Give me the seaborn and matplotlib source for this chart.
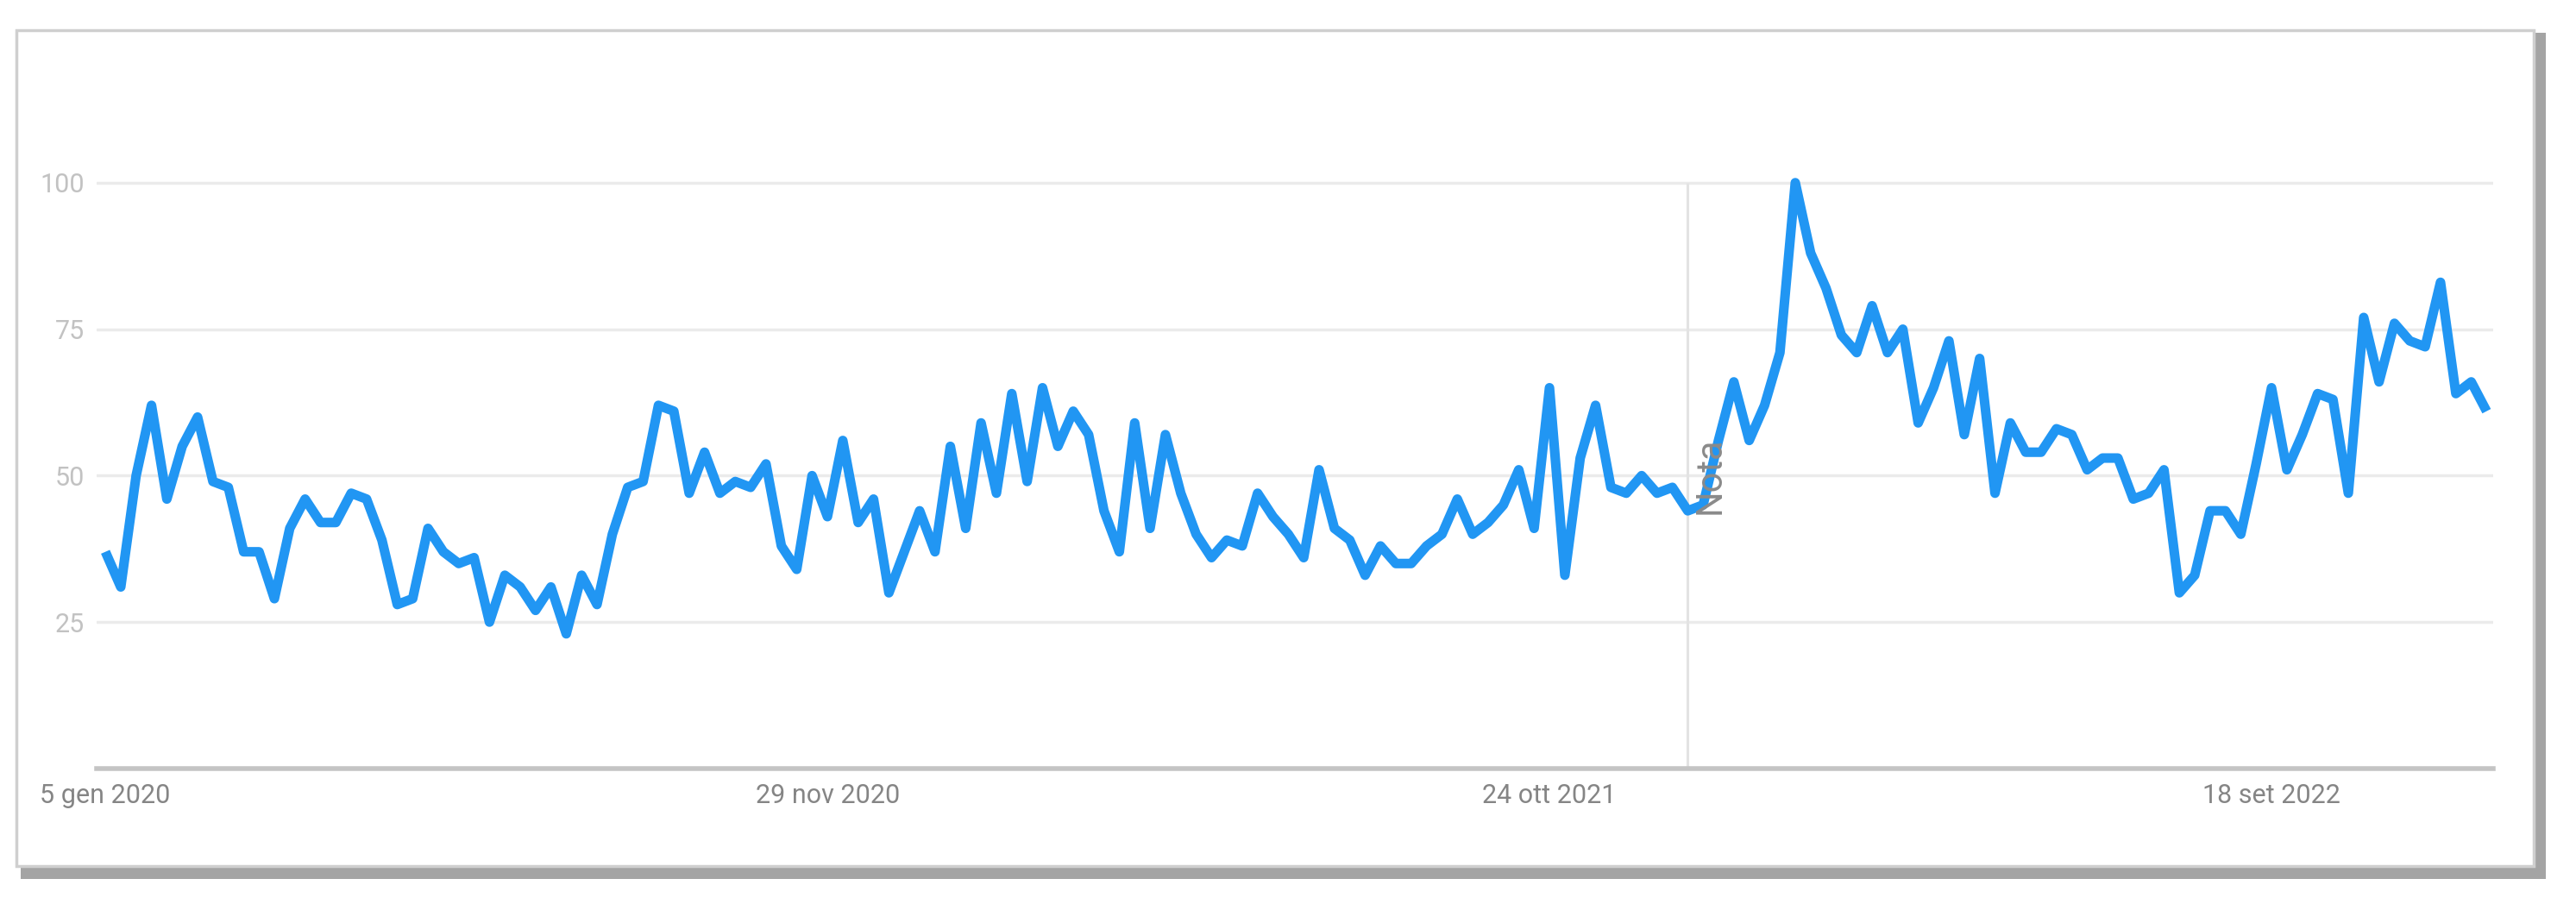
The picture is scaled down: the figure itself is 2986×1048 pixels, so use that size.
#%%
import pandas as pd
import seaborn as sns
import matplotlib.pyplot as plt
import matplotlib.dates as mdates
from matplotlib.patches import Rectangle

sns.set_theme(style="white")
plt.rcParams['font.family'] = ['Roboto', 'DejaVu Sans']

#%% weekly interest (Google Trends style), one list per year
interest_2020 = [37, 31, 50, 62, 46, 55, 60, 49, 48, 37, 37, 29, 41, 46, 42, 42, 47, 46, 39, 28,
                 29, 41, 37, 35, 36, 25, 33, 31, 27, 31, 23, 33, 28, 40, 48, 49, 62, 61, 47, 54,
                 47, 49, 48, 52, 38, 34, 50, 43, 56, 42, 46, 30]
interest_2021 = [37, 44, 37, 55, 41, 59, 47, 64, 49, 65, 55, 61, 57, 44, 37, 59, 41, 57, 47, 40,
                 36, 39, 38, 47, 43, 40, 36, 51, 41, 39, 33, 38, 35, 35, 38, 40, 46, 40, 42, 45,
                 51, 41, 65, 33, 53, 62, 48, 47, 50, 47, 48, 44]
interest_2022 = [45, 56, 66, 56, 62, 71, 100, 88, 82, 74, 71, 79, 71, 75, 59, 65, 73, 57, 70, 47,
                 59, 54, 54, 58, 57, 51, 53, 53, 46, 47, 51, 30, 33, 44, 44, 40, 52, 65, 51, 57,
                 64, 63, 47, 77, 66, 76, 73, 72, 83, 64, 66, 61]

start_week = "2020-01-05"
tick_dates = ["2020-01-05", "2020-11-29", "2021-10-24", "2022-09-18"]
tick_labels = ["5 gen 2020", "29 nov 2020", "24 ott 2021", "18 set 2022"]
y_ticks = [25, 50, 75, 100]
note_date = "2021-12-26"
note_text = "Nota"

values = interest_2020 + interest_2021 + interest_2022
df = pd.DataFrame({
    "week": pd.date_range(start_week, periods=len(values), freq="W-SUN"),
    "interest": values,
})

#%%
W, H = 2986, 1048
fig = plt.figure(figsize=(W / 100, H / 100), dpi=100)
fig.patch.set_facecolor("white")

# screenshot frame with shadow
fig.patches.append(Rectangle((24 / W, (H - 1019) / H), (2951 - 24) / W, (1019 - 38) / H,
                             transform=fig.transFigure, facecolor="#a4a4a4", edgecolor="none", zorder=-3))
fig.patches.append(Rectangle((19 / W, (H - 1004) / H), (2937 - 19) / W, (1004 - 35) / H,
                             transform=fig.transFigure, facecolor="white", edgecolor="#cfcfcf",
                             linewidth=2.5, zorder=-2))

ax = fig.add_axes([112 / W, (H - 891) / H, (2890 - 112) / W, (891 - 42) / H])
ax.set_zorder(2)
ax.set_facecolor("none")

sns.lineplot(data=df, x="week", y="interest", ax=ax, color="#2196f3", linewidth=8,
             solid_joinstyle="round", solid_capstyle="butt", zorder=3)

ax.set_ylim(0, 125)
ax.set_xlim(df.week.iloc[0] - pd.Timedelta(days=4), df.week.iloc[-1] + pd.Timedelta(days=3))
ax.set_yticks(y_ticks)
ax.set_yticklabels([str(t) for t in y_ticks])
ax.set_xticks(pd.to_datetime(tick_dates))
ax.set_xticklabels(tick_labels)
for t in y_ticks:
    ax.axhline(t, color="#ebebeb", linewidth=2.5, zorder=1)

# note marker
nd = pd.to_datetime(note_date)
ax.vlines(nd, 0, 100, color="#e3e3e3", linewidth=2.2, zorder=2)
ax.text(nd + pd.Timedelta(days=10), 50, note_text, rotation=90, ha="center", va="center",
        color="#8a8a8a", fontsize=30, zorder=4)

for s in ["top", "right", "left"]:
    ax.spines[s].set_visible(False)
ax.spines["bottom"].set_color("#c4c4c4")
ax.spines["bottom"].set_linewidth(4)
ax.tick_params(axis="y", length=0, pad=10, labelsize=22, labelcolor="#c2c2c2")
ax.tick_params(axis="x", length=0, pad=12, labelsize=22, labelcolor="#858585")
ax.set(xlabel="", ylabel="")

fig.savefig("out.png", dpi=100)
